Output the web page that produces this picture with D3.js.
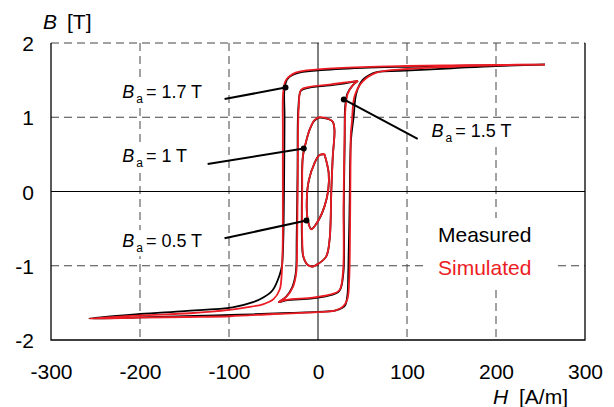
<!DOCTYPE html>
<html><head><meta charset="utf-8">
<script src="https://cdn.jsdelivr.net/npm/d3@7"></script>
<style>body{margin:0;background:#fff}svg{display:block;font-family:"Liberation Sans",Arial,sans-serif}</style>
</head><body><svg id="c" width="614" height="407"></svg>
<script>
const xTicks=[-300,-200,-100,0,100,200,300];
const yTicks=[-2,-1,0,1,2];
const xGrid=[-200,-100,100,200];
const yGrid=[-1,1,2];

// Ba = 1.7 T loop
const meas17=[[255,1.71],[200,1.70],[150,1.69],[100,1.68],[50,1.665],[0,1.63],[-24,1.59],[-34,1.52],[-37.5,1.40],[-37.6,1.0],[-38,0.3],[-38.5,-0.3],[-39,-0.65],[-40.5,-1.0],[-43,-1.12],[-51,-1.33],[-62,-1.43],[-73,-1.49],[-96,-1.56],[-150,-1.61],[-200,-1.65],[-257,-1.71],
 [-200,-1.695],[-150,-1.68],[-88,-1.66],[-32,-1.635],[0,-1.62],[20,-1.60],[30,-1.54],[33,-1.40],[34,-1.10],[35.5,-0.2],[37,0.69],[40,1.0],[43,1.32],[50,1.50],[61.5,1.59],[69,1.615],[92,1.625],[150,1.66],[200,1.69],[255,1.71]];
const sim17=[[255,1.71],[200,1.705],[150,1.70],[100,1.69],[50,1.675],[0,1.645],[-25,1.60],[-36,1.50],[-39,1.35],[-39.5,0.8],[-39.5,0],[-39.5,-0.6],[-40,-0.88],[-41,-1.15],[-43,-1.32],[-50,-1.45],[-62,-1.52],[-80.6,-1.56],[-100,-1.595],[-144,-1.64],[-200,-1.67],[-257,-1.71],
 [-200,-1.70],[-150,-1.69],[-99,-1.68],[-50,-1.65],[0,-1.625],[20,-1.60],[28,-1.55],[33,-1.45],[35,-1.2],[36,-0.5],[36.5,0.3],[37,0.8],[38,0.92],[41,1.28],[50,1.48],[65.5,1.60],[100,1.65],[150,1.68],[200,1.70],[255,1.71]];

// Ba = 1.5 T loop
const meas15=[[45,1.49],[31.7,1.46],[13,1.43],[-9.5,1.40],[-19,1.36],[-22,1.14],[-23,0.25],[-24,-0.65],[-25,-1.10],[-29,-1.29],[-36,-1.42],[-44,-1.49],
 [-36,-1.465],[-6,-1.44],[13,-1.40],[24,-1.34],[28.5,-1.10],[29,-0.20],[30,0.69],[30.5,1.14],[33,1.32],[39,1.43],[45,1.49]];
const sim15=[[45,1.49],[31.7,1.47],[13,1.44],[-9.5,1.41],[-19,1.37],[-21.6,1.14],[-22.7,0.25],[-23.4,-0.65],[-24.5,-1.10],[-28,-1.28],[-35.7,-1.42],[-44,-1.49],
 [-35.7,-1.46],[-5.8,-1.43],[13,-1.39],[24,-1.33],[28,-1.10],[28.7,-0.20],[29.8,0.69],[31,1.14],[33.5,1.32],[39,1.43],[45,1.49]];

// Ba = 1 T loop
const meas10=[[13,0.97],[1.7,0.995],[-4,0.955],[-9.5,0.83],[-13,0.69],[-17,0.47],[-18,0.02],[-18,-0.65],[-16.5,-0.88],[-11.5,-0.99],[-5.8,-1.01],
 [-2,-0.99],[9,-0.88],[13,-0.65],[15,0.02],[16.6,0.47],[18.5,0.83],[16.6,0.94],[13,0.97]];
const sim10=[[13,0.97],[1.7,1.0],[-4,0.96],[-9.5,0.83],[-13,0.69],[-17,0.47],[-17.7,0.02],[-17.7,-0.65],[-16.3,-0.88],[-11.5,-0.99],[-5.8,-1.01],
 [-2,-0.99],[9,-0.88],[13,-0.65],[15,0.02],[16.6,0.47],[18.5,0.83],[16.6,0.94],[13,0.97]];

// Ba = 0.5 T loop
const meas05=[[7.3,0.50],[12,0.25],[11.5,0.02],[7.3,-0.2],[0.9,-0.38],[-7.6,-0.505],[-11.5,-0.38],[-12.6,-0.11],[-10.3,0.15],[-4,0.38],[1.7,0.49],[7.3,0.50]];
const sim05=[[7.3,0.505],[12,0.25],[11.5,0.02],[7.3,-0.2],[0.9,-0.38],[-7.6,-0.51],[-11.5,-0.38],[-12.6,-0.11],[-10.3,0.15],[-4,0.38],[1.7,0.49],[7.3,0.505]];

const labels=["1.7 T","1.5 T","1 T","0.5 T"];
const labelPos=[[-220,1.26],[127.5,0.73],[-220,0.40],[-220,-0.75]];
const leaderFrom=[[-105,1.245],[112,0.71],[-124,0.37],[-105,-0.63]];
const leaderTo=[[-36.5,1.40],[29,1.24],[-16,0.58],[-13,-0.39]];
const legendNames=["Measured","Simulated"];

const svg=d3.select("#c");
const x=d3.scaleLinear([-300,300],[51,585]);
const y=d3.scaleLinear([-2,2],[340,43]);
const RED="#ec1c24";

// grid
const g=svg.append("g");
g.selectAll(".vg").data(xGrid).join("line").attr("x1",d=>x(d)).attr("x2",d=>x(d)).attr("y1",y(2)).attr("y2",y(-2))
 .attr("stroke","#444").attr("stroke-width",1).attr("stroke-dasharray","8,5");
g.selectAll(".hg").data(yGrid).join("line").attr("y1",d=>y(d)).attr("y2",d=>y(d)).attr("x1",x(-300)).attr("x2",x(300))
 .attr("stroke","#444").attr("stroke-width",1).attr("stroke-dasharray","8,5");
// zero lines
g.append("line").attr("x1",x(0)).attr("x2",x(0)).attr("y1",y(2)).attr("y2",y(-2)).attr("stroke","#000").attr("stroke-width",1);
g.append("line").attr("x1",x(-300)).attr("x2",x(300)).attr("y1",y(0)).attr("y2",y(0)).attr("stroke","#000").attr("stroke-width",1);
// frame (left, bottom, right)
g.append("path").attr("d",`M${x(-300)},${y(2)}V${y(-2)}H${x(300)}V${y(2)}`).attr("fill","none").attr("stroke","#000").attr("stroke-width",1.3);

// axes
const fmt=d=>String(d);
const xa=svg.append("g").attr("transform",`translate(0,${y(-2)})`).call(d3.axisBottom(x).tickValues(xTicks).tickSize(0).tickPadding(24).tickFormat(fmt));
const ya=svg.append("g").attr("transform",`translate(${x(-300)},0)`).call(d3.axisLeft(y).tickValues(yTicks).tickSize(0).tickPadding(17).tickFormat(fmt));
[xa,ya].forEach(a=>{a.select(".domain").remove();a.selectAll("text").attr("font-size",21).attr("fill","#000").attr("font-family","Liberation Sans, Arial, sans-serif");});
ya.selectAll("text").attr("dy","0.36em");

// axis titles
const t1=svg.append("text").attr("x",43).attr("y",29).attr("font-size",21);
t1.append("tspan").attr("font-style","italic").text("B");
t1.append("tspan").attr("x",67).text("[T]");
const t2=svg.append("text").attr("x",493).attr("y",404).attr("font-size",21);
t2.append("tspan").attr("font-style","italic").text("H");
t2.append("tspan").attr("x",519).text("[A/m]");

// loops
const line=d3.line().x(d=>x(d[0])).y(d=>y(d[1])).curve(d3.curveCatmullRom.alpha(0.5));
const lp=svg.append("g").attr("fill","none").attr("stroke-width",1.8).attr("stroke-linejoin","round");
[meas17,meas15,meas10,meas05].forEach(d=>lp.append("path").attr("d",line(d)).attr("stroke","#000"));
[sim17,sim15,sim10,sim05].forEach(d=>lp.append("path").attr("d",line(d)).attr("stroke",RED));

// annotations
const an=svg.append("g");
labels.forEach((L,i)=>{
  const tx=x(labelPos[i][0]), ty=y(labelPos[i][1]);
  const t=an.append("text").attr("x",tx).attr("y",ty).attr("font-size",18);
  t.append("tspan").attr("font-style","italic").text("B");
  t.append("tspan").attr("font-size",12).attr("dy",5).attr("dx",2).text("a");
  t.append("tspan").attr("dy",-5).attr("dx",3).text("= "+L);
  const bb=t.node().getBBox();
  an.insert("rect","text").attr("x",bb.x-3).attr("y",bb.y-1).attr("width",bb.width+6).attr("height",bb.height+2).attr("fill","#fff");
  an.append("line").attr("x1",x(leaderFrom[i][0])).attr("y1",y(leaderFrom[i][1])).attr("x2",x(leaderTo[i][0])).attr("y2",y(leaderTo[i][1]))
    .attr("stroke","#000").attr("stroke-width",2);
  an.append("circle").attr("cx",x(leaderTo[i][0])).attr("cy",y(leaderTo[i][1])).attr("r",3).attr("fill","#000");
});

// legend
svg.append("rect").attr("x",428).attr("y",218).attr("width",126).attr("height",68).attr("fill","#fff");
svg.selectAll(".lg").data(legendNames).join("text").attr("x",438).attr("y",(d,i)=>242+i*33).attr("font-size",21)
  .attr("fill",(d,i)=>i?RED:"#000").text(d=>d);
</script></body></html>
